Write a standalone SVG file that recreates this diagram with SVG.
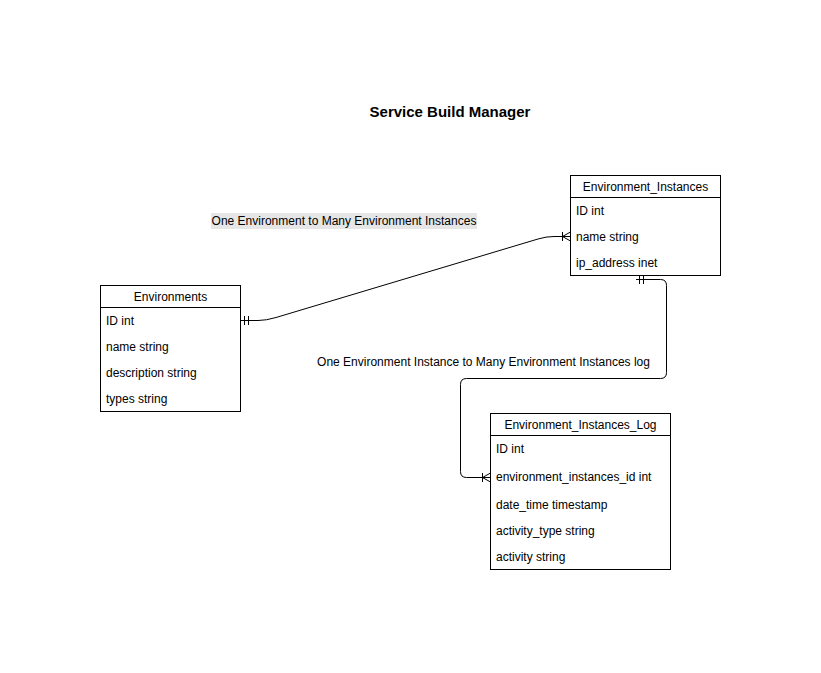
<svg xmlns="http://www.w3.org/2000/svg" width="821" height="673" viewBox="0 0 821 673">
<style>
.box{fill:#fff;stroke:#000;stroke-width:1}
.t{font-family:"Liberation Sans",Arial,sans-serif;font-size:12px;fill:#000}
.h{text-anchor:middle}
.ln{fill:none;stroke:#000;stroke-width:1}
</style>
<rect width="821" height="673" fill="#fff"/>
<text x="450" y="117" class="t h" style="font-size:15px;font-weight:bold">Service Build Manager</text>

<g id="connectors">
  <g id="edge1">
    <path class="ln" d="M240.5 320.5 L258 320.5 Q266 320.5 276 317.5 L538 239 Q546 236.5 554 236.5 L570.5 236.5"/>
    <path class="ln" d="M244.5 316 V325 M248.5 316 V325"/>
    <path class="ln" d="M562.5 232 V241 M570.5 232 L562.5 236.5 L570.5 241"/>
  </g>
  <g id="edge2">
    <path class="ln" d="M636 279.5 L660.5 279.5 Q666.5 279.5 666.5 285.5 L666.5 372.5 Q666.5 378.5 660.5 378.5 L466.5 378.5 Q460.5 378.5 460.5 384.5 L460.5 471.5 Q460.5 477.5 466.5 477.5 L490.5 477.5"/>
    <path class="ln" d="M639.5 275 V284 M643.5 275 V284"/>
    <path class="ln" d="M482.5 473 V482 M490.5 473 L482.5 477.5 L490.5 482"/>
  </g>
  <rect x="211" y="213" width="266" height="16" fill="#e6e6e6"/>
  <text x="344" y="225" class="t h">One Environment to Many Environment Instances</text>
  <text x="483.5" y="366" class="t h">One Environment Instance to Many Environment Instances log</text>
</g>

<g id="environment_instances">
  <rect class="box" x="570.5" y="175.5" width="150" height="100"/>
  <line class="ln" x1="570.5" y1="197.5" x2="720.5" y2="197.5"/>
  <text x="645.5" y="191" class="t h">Environment_Instances</text>
  <text x="576" y="215" class="t">ID int</text>
  <text x="576" y="241" class="t">name string</text>
  <text x="576" y="267" class="t">ip_address inet</text>
</g>

<g id="environments">
  <rect class="box" x="100.5" y="285.5" width="140" height="126"/>
  <line class="ln" x1="100.5" y1="307.5" x2="240.5" y2="307.5"/>
  <text x="170.5" y="301" class="t h">Environments</text>
  <text x="106" y="325" class="t">ID int</text>
  <text x="106" y="351" class="t">name string</text>
  <text x="106" y="377" class="t">description string</text>
  <text x="106" y="403" class="t">types string</text>
</g>

<g id="environment_instances_log">
  <rect class="box" x="490.5" y="413.5" width="180" height="156"/>
  <line class="ln" x1="490.5" y1="435.5" x2="670.5" y2="435.5"/>
  <text x="580.5" y="429" class="t h">Environment_Instances_Log</text>
  <text x="496" y="453" class="t">ID int</text>
  <text x="496" y="481" class="t">environment_instances_id int</text>
  <text x="496" y="509" class="t">date_time timestamp</text>
  <text x="496" y="535" class="t">activity_type string</text>
  <text x="496" y="561" class="t">activity string</text>
</g>
</svg>
